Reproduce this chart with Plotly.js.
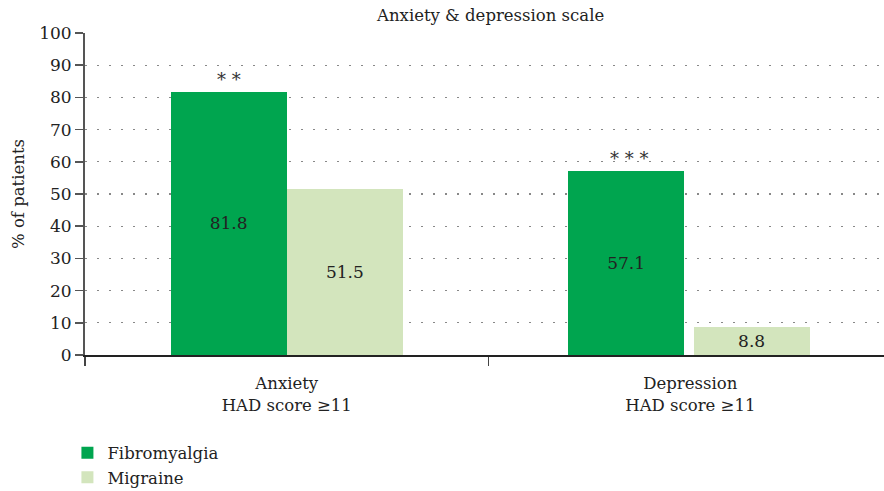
<!DOCTYPE html>
<html><head><meta charset="utf-8">
<script src="https://cdn.plot.ly/plotly-3.0.1.min.js"></script>
<style>body{margin:0;background:#fff}#chart{width:884px;height:491px}</style>
</head><body><div id="chart"></div>
<script>
const categories = ["Anxiety<br>HAD score ≥11", "Depression<br>HAD score ≥11"];
const fibromyalgia = [81.8, 57.1];
const migraine = [51.5, 8.8];
const significance = ["* *", "* * *"];
const yTicks = [0,10,20,30,40,50,60,70,80,90,100];

const font = "DejaVu Serif";
const traces = [
  {type:"bar", name:"Fibromyalgia", x:categories, y:fibromyalgia,
   marker:{color:"#00a54f"}, width:0.288, offset:[-0.288,-0.303],
   text:fibromyalgia.map(v=>v.toFixed(1)), textposition:"inside", insidetextanchor:"middle",
   textfont:{family:font,size:17,color:"#222"}, hoverinfo:"skip"},
  {type:"bar", name:"Migraine", x:categories, y:migraine,
   marker:{color:"#d3e5bd"}, width:0.288, offset:[0,0.008],
   text:migraine.map(v=>v.toFixed(1)), textposition:"inside", insidetextanchor:"middle",
   textfont:{family:font,size:17,color:"#222"}, hoverinfo:"skip"}
];
const annotations = categories.map((c,i)=>({
  x:c, y:fibromyalgia[i], xshift:-0.144*403 - (i?3:0), yshift:0, yanchor:"bottom", showarrow:false,
  text:significance[i], font:{family:font,size:18,color:"#333"}
}));
const layout = {
  width:884, height:491,
  margin:{l:85, r:0, t:33, b:136, autoexpand:false},
  paper_bgcolor:"#fff", plot_bgcolor:"#fff",
  font:{family:font, color:"#222"},
  title:{text:"Anxiety & depression scale", x:0.555, xanchor:"center", y:0.98, yanchor:"top",
         font:{family:font,size:16.5,color:"#222"}},
  barmode:"group", bargap:0, bargroupgap:0,
  showlegend:true,
  legend:{orientation:"v", x:-0.022, xanchor:"left", y:-0.25, yanchor:"top",
          font:{family:font,size:16.5,color:"#222"}, itemwidth:30, tracegroupgap:0},
  xaxis:{type:"category", range:[-0.5,1.48], tickson:"boundaries", ticks:"outside", ticklen:9,
         tickcolor:"#444", tickwidth:1.5, showline:true, linecolor:"#222", linewidth:1.5,
         ticklabelstandoff:13,
         showgrid:false, tickfont:{family:font,size:16.5,color:"#222"}, fixedrange:true, automargin:false},
  yaxis:{range:[0,100], tickvals:yTicks, ticktext:yTicks.map(String), ticks:"outside", ticklen:8,
         tickcolor:"#555", tickwidth:1.5, showline:true, linecolor:"#555", linewidth:2,
         showgrid:true, gridcolor:"#888", gridwidth:1.3, griddash:"1.5px,10.5px", automargin:false,
         zeroline:false, tickfont:{family:font,size:17,color:"#222"},
         title:{text:"% of patients", font:{family:font,size:16.5,color:"#222"}, standoff:10}},
  annotations:annotations
};
Plotly.newPlot("chart", traces, layout, {displayModeBar:false, staticPlot:true});
</script></body></html>
